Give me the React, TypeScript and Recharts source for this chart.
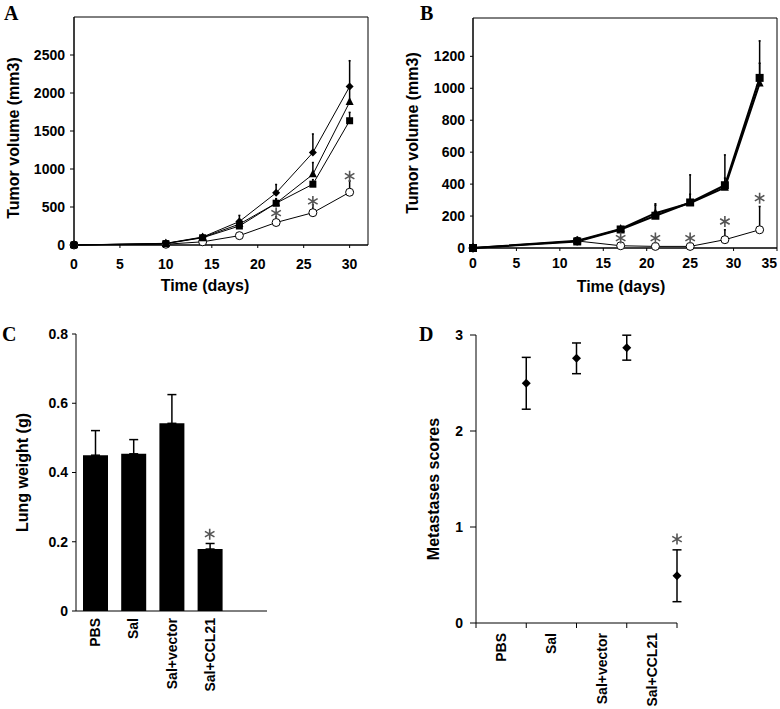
import {
  Bar,
  ComposedChart,
  ErrorBar,
  Label,
  Line,
  ReferenceArea,
  XAxis,
  YAxis,
} from "recharts";

const SANS = "'Liberation Sans', Arial, Helvetica, sans-serif";
const SERIF = "'Liberation Serif', 'Times New Roman', serif";

// A: tumor volume (mm3) by day
const daysA = [0, 10, 14, 18, 22, 26, 30];
const diamondA = [0, 22, 105, 309, 686, 1216, 2085];
const diamondErrA = [0, 5, 20, 80, 110, 245, 340];
const triangleA = [0, 20, 100, 275, 550, 930, 1880];
const triangleErrA = [0, 5, 15, 50, 60, 155, 190];
const squareA = [0, 18, 95, 250, 550, 800, 1635];
const squareErrA = [0, 5, 15, 40, 50, 60, 110];
const circleA = [0, 10, 42, 123, 296, 425, 694];
const circleErrA = [0, 3, 8, 20, 75, 105, 150];
const starA = [null, null, null, null, 420, 574, 906];

// B: tumor volume (mm3) by day
const daysB = [0, 12, 17, 21, 25, 29, 33];
const squareB = [0, 41, 116, 202, 285, 393, 1065];
const squareErrB = [0, 23, 12, 75, 173, 190, 232];
const triangleB = [0, 46, 119, 218, 282, 378, 1030];
const triangleErrB = [0, 20, 10, 50, 55, 60, 127];
const circleB = [0, 44, 14, 10, 10, 52, 114];
const circleErrB = [0, 4, 4, 4, 4, 62, 146];
const starB = [null, null, 62, 62, 62, 166, 312];

// C: lung weight (g)
const groups = ["PBS", "Sal", "Sal+vector", "Sal+CCL21"];
const lungWeight = [0.45, 0.454, 0.542, 0.179];
const lungErr = [0.071, 0.041, 0.083, 0.016];
const lungStar = [null, null, null, 0.222];

// D: metastases scores
const metScore = [2.497, 2.757, 2.868, 0.492];
const metErr = [0.27, 0.16, 0.13, 0.27];
const metStar = [null, null, null, 0.874];

const rowsA = daysA.map((day, i) => ({
  day,
  diamond: diamondA[i],
  diamondErr: [0, diamondErrA[i]],
  triangle: triangleA[i],
  triangleErr: [0, triangleErrA[i]],
  square: squareA[i],
  squareErr: [0, squareErrA[i]],
  circle: circleA[i],
  circleErr: [0, circleErrA[i]],
  star: starA[i],
}));

const rowsB = daysB.map((day, i) => ({
  day,
  triangle: triangleB[i],
  triangleErr: [0, triangleErrB[i]],
  square: squareB[i],
  squareErr: [0, squareErrB[i]],
  circle: circleB[i],
  circleErr: [0, circleErrB[i]],
  star: starB[i],
}));

const rowsC = [...groups, ""].map((group, i) => ({
  group,
  weight: lungWeight[i] ?? null,
  err: lungWeight[i] != null ? [0, lungErr[i]] : null,
  star: lungStar[i] ?? null,
}));

const rowsD = groups.map((group, i) => ({
  x: i + 1,
  group,
  score: metScore[i],
  err: metErr[i],
  star: metStar[i],
}));

const tickFont = { fill: "#000", fontSize: 14, fontWeight: 700, fontFamily: SANS };
const titleFont = { fill: "#000", fontSize: 16, fontWeight: 700, fontFamily: SANS };

const marker = (kind: string, s = 4) => (p: any) => {
  const { cx, cy, index } = p;
  if (cx == null || cy == null || Number.isNaN(cy)) return <g key={index} />;
  if (kind === "diamond")
    return (
      <polygon
        key={index}
        points={`${cx},${cy - s} ${cx + s},${cy} ${cx},${cy + s} ${cx - s},${cy}`}
        fill="#000"
      />
    );
  if (kind === "square")
    return <rect key={index} x={cx - s} y={cy - s} width={2 * s} height={2 * s} fill="#000" />;
  if (kind === "triangle")
    return (
      <polygon
        key={index}
        points={`${cx},${cy - s - 1} ${cx + s},${cy + s - 1} ${cx - s},${cy + s - 1}`}
        fill="#000"
      />
    );
  if (kind === "circle")
    return <circle key={index} cx={cx} cy={cy} r={s} fill="#fff" stroke="#000" strokeWidth={1} />;
  // significance asterisk, six arms
  const r = 5.5;
  const dx = r * 0.866;
  const dy = r * 0.5;
  return (
    <path
      key={index}
      d={`M${cx},${cy - r}V${cy + r}M${cx - dx},${cy - dy}L${cx + dx},${cy + dy}M${cx - dx},${cy + dy}L${cx + dx},${cy - dy}`}
      stroke="#555"
      strokeWidth={1.6}
      fill="none"
    />
  );
};

const xTitle = (text: string, dx: number, dy: number) => (p: any) => {
  const vb = p.viewBox;
  return (
    <text
      x={vb.x + vb.width / 2 + dx}
      y={vb.y + dy}
      textAnchor="middle"
      dominantBaseline="central"
      style={titleFont}
    >
      {text}
    </text>
  );
};

const yTitle = (text: string, x: number, dy: number) => (p: any) => {
  const vb = p.viewBox;
  const cy = vb.y + vb.height / 2 + dy;
  return (
    <text
      x={x}
      y={cy}
      transform={`rotate(-90 ${x} ${cy})`}
      textAnchor="middle"
      dominantBaseline="central"
      style={titleFont}
    >
      {text}
    </text>
  );
};

// B: last day label kept inside the page edge
const TickB = (p: any) => {
  const { x, y, payload } = p;
  const last = payload.value === 35;
  return (
    <text
      x={last ? Math.min(x + 8, 387) : x}
      y={y}
      dy="0.71em"
      textAnchor={last ? "end" : "middle"}
      style={tickFont}
    >
      {payload.value}
    </text>
  );
};

const RotTick = (p: any) => {
  const { x, y, payload } = p;
  return (
    <text
      x={x}
      y={y}
      transform={`rotate(-90 ${x} ${y})`}
      textAnchor="end"
      dominantBaseline="central"
      style={tickFont}
    >
      {payload.value}
    </text>
  );
};

// D: tick marks on integers, group names between them
const TickD = (p: any) => {
  const { x, y, payload } = p;
  const v = payload.value;
  if (Number.isInteger(v)) return <line x1={x} y1={y} x2={x} y2={y + 5} stroke="#000" />;
  const name = groups[Math.floor(v)];
  const ty = y + 10;
  return (
    <text
      x={x}
      y={ty}
      transform={`rotate(-90 ${x} ${ty})`}
      textAnchor="end"
      dominantBaseline="central"
      style={tickFont}
    >
      {name}
    </text>
  );
};

function PanelA() {
  return (
    <ComposedChart width={380} height={300} data={rowsA} margin={{ top: 17, right: 12, left: 0, bottom: 5 }}>
      <XAxis
        dataKey="day"
        type="number"
        domain={[0, 32]}
        ticks={[0, 5, 10, 15, 20, 25, 30]}
        interval={0}
        stroke="#000"
        tickSize={3}
        tickMargin={11}
        height={50}
        tick={tickFont}
      >
        <Label content={xTitle("Time (days)", -16, 40)} />
      </XAxis>
      <YAxis
        type="number"
        domain={[0, 3000]}
        ticks={[0, 500, 1000, 1500, 2000, 2500]}
        interval={0}
        width={74}
        stroke="#000"
        tickSize={4}
        tickMargin={5}
        tick={tickFont}
      >
        <Label content={yTitle("Tumor volume (mm3)", 13, 7)} />
      </YAxis>
      <ReferenceArea x1={0} x2={32} y1={0} y2={3000} fill="none" stroke="#000" strokeWidth={1} />
      <Line dataKey="circle" stroke="#000" strokeWidth={1} dot={marker("circle", 4)} activeDot={false} isAnimationActive={false}>
        <ErrorBar dataKey="circleErr" direction="y" width={1} stroke="#000" />
      </Line>
      <Line dataKey="square" stroke="#000" strokeWidth={1} dot={marker("square", 3.5)} activeDot={false} isAnimationActive={false}>
        <ErrorBar dataKey="squareErr" direction="y" width={1} stroke="#000" />
      </Line>
      <Line dataKey="triangle" stroke="#000" strokeWidth={1} dot={marker("triangle", 4)} activeDot={false} isAnimationActive={false}>
        <ErrorBar dataKey="triangleErr" direction="y" width={1} stroke="#000" />
      </Line>
      <Line dataKey="diamond" stroke="#000" strokeWidth={1} dot={marker("diamond", 4)} activeDot={false} isAnimationActive={false}>
        <ErrorBar dataKey="diamondErr" direction="y" width={1} stroke="#000" />
      </Line>
      <Line dataKey="star" stroke="none" dot={marker("star")} activeDot={false} isAnimationActive={false} />
    </ComposedChart>
  );
}

function PanelB() {
  return (
    <ComposedChart width={390} height={300} data={rowsB} margin={{ top: 18, right: 3, left: 0, bottom: 5 }}>
      <XAxis
        dataKey="day"
        type="number"
        domain={[0, 35]}
        ticks={[0, 5, 10, 15, 20, 25, 30, 35]}
        interval={0}
        stroke="#000"
        tickSize={3}
        tickMargin={7}
        height={47}
        tick={<TickB />}
      >
        <Label content={xTitle("Time (days)", -4, 38)} />
      </XAxis>
      <YAxis
        type="number"
        domain={[0, 1440]}
        ticks={[0, 200, 400, 600, 800, 1000, 1200]}
        interval={0}
        width={83}
        stroke="#000"
        tickSize={3}
        tickMargin={5}
        tick={tickFont}
      >
        <Label content={yTitle("Tumor volume (mm3)", 22, 0)} />
      </YAxis>
      <ReferenceArea x1={0} x2={35} y1={0} y2={1440} fill="none" stroke="#000" strokeWidth={1} />
      <Line dataKey="circle" stroke="#000" strokeWidth={1} dot={marker("circle", 4)} activeDot={false} isAnimationActive={false}>
        <ErrorBar dataKey="circleErr" direction="y" width={1} stroke="#000" />
      </Line>
      <Line dataKey="triangle" stroke="#000" strokeWidth={2} dot={marker("triangle", 4)} activeDot={false} isAnimationActive={false}>
        <ErrorBar dataKey="triangleErr" direction="y" width={1} stroke="#000" />
      </Line>
      <Line dataKey="square" stroke="#000" strokeWidth={2} dot={marker("square", 4)} activeDot={false} isAnimationActive={false}>
        <ErrorBar dataKey="squareErr" direction="y" width={1} stroke="#000" />
      </Line>
      <Line dataKey="star" stroke="none" dot={marker("star")} activeDot={false} isAnimationActive={false} />
    </ComposedChart>
  );
}

function PanelC() {
  return (
    <ComposedChart width={300} height={389} data={rowsC} margin={{ top: 14, right: 33, left: 0, bottom: 5 }}>
      <XAxis
        dataKey="group"
        interval={0}
        stroke="#000"
        tickLine={false}
        tickSize={0}
        tickMargin={7}
        height={93}
        tick={<RotTick />}
      />
      <YAxis
        type="number"
        domain={[0, 0.8]}
        ticks={[0, 0.2, 0.4, 0.6, 0.8]}
        interval={0}
        width={76}
        stroke="#000"
        tickSize={4}
        tickMargin={4}
        tick={tickFont}
      >
        <Label content={yTitle("Lung weight (g)", 22, 0)} />
      </YAxis>
      <Bar dataKey="weight" fill="#000" barSize={25} isAnimationActive={false}>
        <ErrorBar dataKey="err" direction="y" width={4.5} stroke="#000" />
      </Bar>
      <Line dataKey="star" stroke="none" dot={marker("star")} activeDot={false} isAnimationActive={false} />
    </ComposedChart>
  );
}

function PanelD() {
  return (
    <ComposedChart width={390} height={389} data={rowsD} margin={{ top: 15, right: 103, left: 0, bottom: 5 }}>
      <XAxis
        dataKey="x"
        type="number"
        domain={[0, 4]}
        ticks={[0, 0.5, 1, 1.5, 2, 2.5, 3, 3.5, 4]}
        interval={0}
        stroke="#000"
        tickLine={false}
        tickSize={0}
        tickMargin={0}
        height={81}
        tick={<TickD />}
      />
      <YAxis
        type="number"
        domain={[0, 3]}
        ticks={[0, 1, 2, 3]}
        interval={0}
        width={86}
        stroke="#000"
        tickSize={6}
        tickMargin={7}
        tick={tickFont}
      >
        <Label content={yTitle("Metastases scores", 43, 10)} />
      </YAxis>
      <Line dataKey="score" stroke="none" dot={marker("diamond", 4.5)} activeDot={false} isAnimationActive={false}>
        <ErrorBar dataKey="err" direction="y" width={4.5} stroke="#000" />
      </Line>
      <Line dataKey="star" stroke="none" dot={marker("star")} activeDot={false} isAnimationActive={false} />
    </ComposedChart>
  );
}

const letter = { fontFamily: SERIF, fontWeight: 700, fontSize: 20, fill: "#000" } as const;

export default function App() {
  return (
    <div style={{ position: "absolute", left: 0, top: 0, width: 780, height: 709, background: "#fff" }}>
      <div style={{ position: "absolute", left: 0, top: 0 }}>
        <PanelA />
      </div>
      <div style={{ position: "absolute", left: 390, top: 0 }}>
        <PanelB />
      </div>
      <div style={{ position: "absolute", left: 0, top: 320 }}>
        <PanelC />
      </div>
      <div style={{ position: "absolute", left: 390, top: 320 }}>
        <PanelD />
      </div>
      <svg width={780} height={709} style={{ position: "absolute", left: 0, top: 0, pointerEvents: "none" }}>
        <text x={4} y={20} style={letter}>A</text>
        <text x={420} y={20} style={letter}>B</text>
        <text x={2} y={341} style={letter}>C</text>
        <text x={419} y={341} style={letter}>D</text>
      </svg>
    </div>
  );
}
